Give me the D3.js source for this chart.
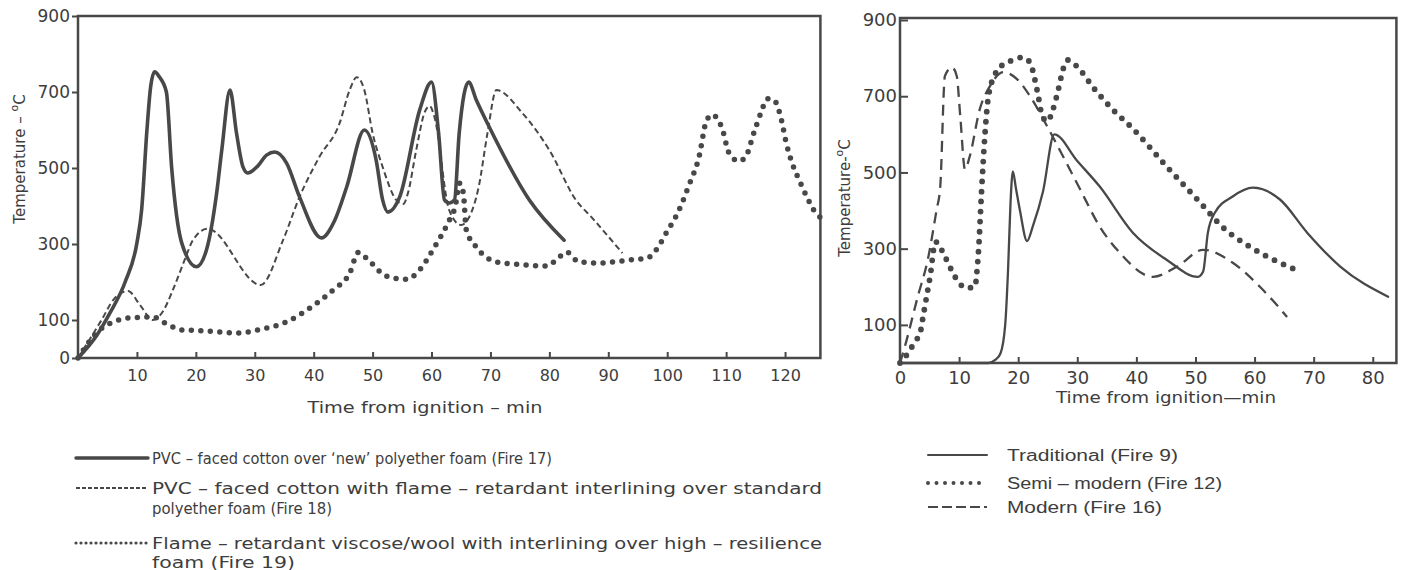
<!DOCTYPE html>
<html><head><meta charset="utf-8">
<script src="https://cdn.jsdelivr.net/npm/d3@7"></script>
<style>
body{margin:0;background:#fff}
svg text{font-family:"DejaVu Sans",sans-serif;fill:#3d3d3d}
</style>
</head><body>
<svg id="c" width="1404" height="570"></svg>
<script>
// ---------- DATA ----------
const leftXTicks = [10,20,30,40,50,60,70,80,90,100,110,120];
const leftYTicks = [0,100,300,500,700,900];
const rightXTicks = [0,10,20,30,40,50,60,70,80];
const rightYTicks = [100,300,500,700,900];

// Left chart: time (min), temperature (°C)
const fire17 = [[0,0],[3.2,60],[5.4,118],[8,200],[10,303],[10.8,390],[11.7,600],[12.3,710],[13,753],[13.8,740],[15,700],[15.9,500],[17.6,303],[20.1,240],[21.8,284],[23.5,430],[24.4,547],[25.8,705],[26.9,592],[28,503],[28.8,487],[30.5,505],[32,534],[33.4,542],[35.4,513],[37.6,424],[41.3,316],[43.5,360],[45.6,450],[48.6,600],[50.6,521],[51.7,416],[52.6,384],[54.6,424],[58,653],[60,726],[61.2,592],[62.2,416],[63,408],[63.9,416],[64.7,592],[66.3,726],[67.6,679],[69.8,608],[76.6,416],[82.5,310]];
const fire18 = [[0,0],[1.7,42],[4,100],[6,153],[8.5,176],[10.5,140],[12.7,100],[14.5,125],[16.1,179],[18.1,258],[19.5,310],[22,340],[31,192],[34.8,310],[37.6,424],[41,530],[44.4,618],[46.1,705],[47.3,739],[48.6,705],[50,592],[51.7,503],[54,416],[55.2,405],[56,434],[57.4,547],[58.8,645],[59.7,663],[60.5,634],[63,389],[65,350],[66.4,371],[68,450],[69.5,592],[71,705],[75.4,645],[80,547],[84.5,416],[87.3,368],[92.4,276]];
const fire19 = [[0,0],[3.7,74],[6,95],[8.5,105],[12.7,108],[15,90],[17.6,74],[20.7,72],[27.2,66],[30.6,74],[35.4,95],[39.6,134],[43.3,179],[46.1,223],[47.6,278],[49,262],[52.3,216],[55.7,207],[58,232],[60.2,284],[63,362],[64,397],[64.8,460],[65.4,434],[65.9,337],[67.6,292],[71,253],[74.4,247],[79.5,242],[81.7,266],[82.9,279],[85,253],[88.5,250],[93.6,258],[96.6,263],[98.1,284],[99.8,328],[102,389],[103.7,455],[105.4,529],[106.6,621],[107.6,640],[109.3,605],[110.5,539],[112.2,518],[113.3,529],[114.7,592],[115.9,645],[117,682],[118.1,679],[119.3,632],[120.2,566],[121.2,513],[122.4,468],[123.7,424],[125.2,382],[126,370]];

// Right chart
const fire9 = [[0,0],[15,0],[16.1,8],[17,25],[17.8,100],[18.3,250],[18.7,420],[19.1,503],[19.6,460],[20.3,400],[21.5,320],[22.5,360],[24.2,450],[26.1,600],[30,530],[33.8,463],[39.4,342],[45.1,271],[50.4,226],[51.3,240],[52.1,342],[53.3,395],[56.3,437],[59.7,460],[64.3,429],[68.9,342],[74.5,253],[82.6,174]];
const fire12 = [[0,0],[1.7,34],[2.5,56],[3.4,78],[3.9,121],[4.5,174],[5.1,227],[6,318],[7.7,276],[9.1,232],[10,210],[11.3,197],[12.7,200],[13,237],[13.3,297],[13.8,450],[14.4,605],[14.9,692],[16.1,758],[17.5,784],[19.2,795],[20.6,802],[22,789],[22.8,745],[23.4,700],[24,652],[24.9,634],[25.9,666],[26.8,718],[27.6,771],[28.4,795],[29.9,779],[32.7,723],[36,665],[39.4,615],[45.1,516],[50.8,421],[54.7,355],[59.2,305],[64.3,263],[67.7,240]];
const fire16 = [[0,0],[0.8,42],[3,174],[4.7,271],[6.2,403],[6.8,460],[7.6,753],[8.8,776],[9.6,753],[10.2,647],[11,508],[11.8,542],[13.5,666],[15.2,726],[17.5,763],[19.8,745],[22,700],[24.9,621],[27.6,542],[30.5,455],[33.8,358],[37.2,289],[42.8,226],[46.9,253],[51.3,297],[56.3,263],[60.9,200],[65.5,121]];

const leftLegend = [
  {key:"fire17", lines:["PVC – faced cotton over ‘new’ polyether foam (Fire 17)"], widths:[400]},
  {key:"fire18", lines:["PVC – faced cotton with flame – retardant interlining over standard","polyether foam (Fire 18)"], widths:[670,180]},
  {key:"fire19", lines:["Flame – retardant viscose/wool with interlining over high – resilience","foam (Fire 19)"], widths:[670,143]}
];
const rightLegend = [
  {key:"fire9", text:"Traditional (Fire 9)", width:171},
  {key:"fire12", text:"Semi – modern (Fire 12)", width:215},
  {key:"fire16", text:"Modern (Fire 16)", width:155}
];

// ---------- STYLES ----------
const ink = "#484848";
const styles = {
  fire17:{w:3.6, dash:null, cap:"round"},
  fire18:{w:2, dash:"6,3.5", cap:"butt"},
  fire19:{w:5.5, dash:"0,9.5", cap:"round"},
  fire9:{w:2.3, dash:null, cap:"round"},
  fire12:{w:5.8, dash:"0,10", cap:"round"},
  fire16:{w:2.3, dash:"11,7", cap:"butt"}
};
function styleLine(sel,k){
  const s=styles[k];
  sel.attr("fill","none").attr("stroke",ink).attr("stroke-width",s.w)
     .attr("stroke-linecap",s.cap).attr("stroke-linejoin","round");
  if(s.dash) sel.attr("stroke-dasharray",s.dash);
  return sel;
}

const svg = d3.select("#c");

// ---------- LEFT CHART ----------
const xL = d3.scaleLinear().domain([0,126]).range([78,820.4]);
const yL = d3.scaleLinear().domain([0,900]).range([358,16]);

const axL = svg.append("g").attr("transform",`translate(0,${yL(0)})`)
  .call(d3.axisBottom(xL).tickValues(leftXTicks).tickSize(-6).tickPadding(12));
axL.select(".domain").remove();
axL.selectAll("line").attr("stroke",ink).attr("stroke-width",2);
axL.selectAll("text").attr("font-size",16).style("fill","#3d3d3d");

const ayL = svg.append("g").attr("transform",`translate(${xL(0)},0)`)
  .call(d3.axisLeft(yL).tickValues(leftYTicks).tickSize(6).tickPadding(2));
ayL.select(".domain").remove();
ayL.selectAll("line").attr("stroke",ink).attr("stroke-width",2);
ayL.selectAll("text").attr("font-size",17).style("fill","#3d3d3d");

svg.append("rect").attr("x",xL(0)).attr("y",yL(900)).attr("width",xL(126)-xL(0)).attr("height",yL(0)-yL(900))
  .attr("fill","none").attr("stroke",ink).attr("stroke-width",2.5);

const lineL = d3.line().x(d=>xL(d[0])).y(d=>yL(d[1])).curve(d3.curveMonotoneX);
styleLine(svg.append("path").attr("d",lineL(fire19)),"fire19");
styleLine(svg.append("path").attr("d",lineL(fire18)),"fire18");
styleLine(svg.append("path").attr("d",lineL(fire17)),"fire17");

svg.append("text").attr("x",425).attr("y",413).attr("text-anchor","middle").attr("font-size",15)
  .attr("textLength",235).attr("lengthAdjust","spacingAndGlyphs").text("Time from ignition – min");

const tL = svg.append("text").attr("transform","translate(25,159) rotate(-90)").attr("text-anchor","middle").attr("font-size",15);
tL.append("tspan").text("Temperature – ");
tL.append("tspan").attr("font-size",11).attr("dy",-7).text("o");
tL.append("tspan").attr("dy",7).text("C");

// left legend
const legY = [[458],[488,508],[543,562]];
const legFont = "'DejaVu Sans Condensed','DejaVu Sans',sans-serif";
leftLegend.forEach((it,i)=>{
  styleLine(svg.append("line").attr("x1",76).attr("x2",148).attr("y1",legY[i][0]).attr("y2",legY[i][0]),it.key)
    .attr("stroke-width",it.key==="fire19"?3.2:(it.key==="fire17"?3.4:1.8))
    .attr("stroke-dasharray",it.key==="fire19"?"0,5":(it.key==="fire18"?"4,2":null));
  it.lines.forEach((t,j)=>{
    svg.append("text").attr("x",152).attr("y",legY[i][j]+5.5).attr("font-size",16)
      .style("font-family",legFont).style("font-stretch","condensed")
      .attr("textLength",it.widths[j]).attr("lengthAdjust","spacingAndGlyphs").text(t);
  });
});

// ---------- RIGHT CHART ----------
const xR = d3.scaleLinear().domain([0,84]).range([900,1396.4]);
const yR = d3.scaleLinear().domain([0,900]).range([363,20]);

const axR = svg.append("g").attr("transform",`translate(0,${yR(0)})`)
  .call(d3.axisBottom(xR).tickValues(rightXTicks).tickSize(-6).tickPadding(8));
axR.select(".domain").remove();
axR.selectAll("line").attr("stroke",ink).attr("stroke-width",2);
axR.selectAll("text").attr("font-size",18).style("fill","#3d3d3d");

const ayR = svg.append("g").attr("transform",`translate(${xR(0)},0)`)
  .call(d3.axisLeft(yR).tickValues(rightYTicks).tickSize(-8).tickPadding(3));
ayR.select(".domain").remove();
ayR.selectAll("line").attr("stroke",ink).attr("stroke-width",2);
ayR.selectAll("text").attr("font-size",18).style("fill","#3d3d3d");

svg.append("rect").attr("x",xR(0)).attr("y",yR(900)-2).attr("width",xR(84)-xR(0)).attr("height",yR(0)-yR(900)+2)
  .attr("fill","none").attr("stroke",ink).attr("stroke-width",2.5);

const lineR = d3.line().x(d=>xR(d[0])).y(d=>yR(d[1])).curve(d3.curveMonotoneX);
styleLine(svg.append("path").attr("d",lineR(fire12)),"fire12");
styleLine(svg.append("path").attr("d",lineR(fire16)),"fire16");
styleLine(svg.append("path").attr("d",lineR(fire9)),"fire9");

svg.append("text").attr("x",1166).attr("y",403).attr("text-anchor","middle").attr("font-size",15)
  .attr("textLength",220).attr("lengthAdjust","spacingAndGlyphs").text("Time from ignition—min");

const tR = svg.append("text").attr("transform","translate(850,198) rotate(-90)").attr("text-anchor","middle").attr("font-size",15);
tR.append("tspan").text("Temperature-");
tR.append("tspan").attr("font-size",11).attr("dy",-7).text("o");
tR.append("tspan").attr("dy",7).text("C");

// right legend
const legRY = [455,483,507];
rightLegend.forEach((it,i)=>{
  styleLine(svg.append("line").attr("x1",928).attr("x2",987).attr("y1",legRY[i]).attr("y2",legRY[i]),it.key)
    .attr("stroke-width",it.key==="fire12"?4:2)
    .attr("stroke-dasharray",it.key==="fire12"?"0,8.5":(it.key==="fire16"?"10,4":null));
  svg.append("text").attr("x",1007).attr("y",legRY[i]+5.5).attr("font-size",16)
    .style("font-family","'Liberation Sans','DejaVu Sans',sans-serif")
    .attr("textLength",it.width).attr("lengthAdjust","spacingAndGlyphs").text(it.text);
});
</script>
</body></html>
